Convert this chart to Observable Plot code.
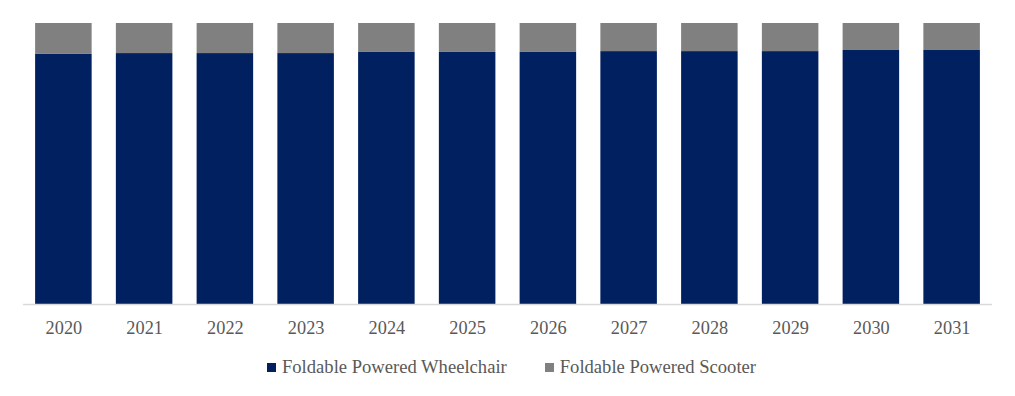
<!DOCTYPE html>
<html>
<head>
<meta charset="utf-8">
<script src="https://cdn.jsdelivr.net/npm/d3@7"></script>
<script src="https://cdn.jsdelivr.net/npm/@observablehq/plot@0.6"></script>
<style>
  html, body { margin: 0; padding: 0; background: #fff; }
  #chart { width: 1015px; }
  .legend { display: flex; justify-content: center; align-items: center; gap: 0; font-family: "Liberation Serif", "Times New Roman", serif; font-size: 18.6px; color: #595959; margin-top: 16px; padding-left: 8px; }
  .legend .item { display: flex; align-items: center; }
  .legend .sw { width: 9px; height: 9px; display: inline-block; margin-right: 6px; }
</style>
</head>
<body>
<div id="chart"></div>
<script>
const years = ["2020","2021","2022","2023","2024","2025","2026","2027","2028","2029","2030","2031"];
const wheelchair = [89.0, 89.3, 89.3, 89.3, 89.7, 89.7, 89.7, 90.0, 90.0, 90.0, 90.4, 90.4];
const scooter = wheelchair.map(v => +(100 - v).toFixed(1));
const seriesNames = ["Foldable Powered Wheelchair", "Foldable Powered Scooter"];
const seriesColors = ["#002060", "#808080"];

const data = [];
years.forEach((y, i) => {
  data.push({year: y, series: seriesNames[0], value: wheelchair[i]});
  data.push({year: y, series: seriesNames[1], value: scooter[i]});
});

const plot = Plot.plot({
  width: 1015,
  height: 340,
  marginLeft: 23,
  marginRight: 23,
  marginTop: 23,
  marginBottom: 36,
  style: {fontFamily: "'Liberation Serif', 'Times New Roman', serif", fontSize: "18.3px", color: "#595959", background: "#fff"},
  x: {domain: years, paddingInner: 0.3, paddingOuter: 0.15, round: false, label: null, tickSize: 0, tickPadding: 16},
  y: {domain: [0, 100], axis: null},
  color: {domain: seriesNames, range: seriesColors},
  marks: [
    Plot.barY(data, {x: "year", y: "value", fill: "series", order: seriesNames}),
    Plot.ruleY([0], {stroke: "#d9d9d9", strokeWidth: 1.5})
  ]
});
document.getElementById("chart").appendChild(plot);

const legend = document.createElement("div");
legend.className = "legend";
seriesNames.forEach((name, i) => {
  const item = document.createElement("div");
  item.className = "item";
  if (i > 0) item.style.marginLeft = "38px";
  const sw = document.createElement("span");
  sw.className = "sw";
  sw.style.background = seriesColors[i];
  item.appendChild(sw);
  item.appendChild(document.createTextNode(name));
  legend.appendChild(item);
});
document.getElementById("chart").appendChild(legend);
</script>
</body>
</html>
